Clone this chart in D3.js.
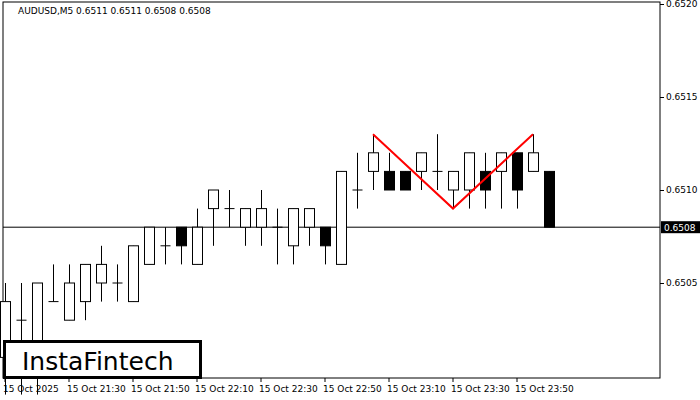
<!DOCTYPE html><html><head><meta charset="utf-8"><script src="https://cdn.jsdelivr.net/npm/d3@7"></script>
<style>body{margin:0;background:#fff}svg{display:block}text{font-family:"DejaVu Sans",sans-serif}</style></head><body><svg id="c" width="700" height="400"></svg>
<script>
const opens  =[.6501,.6503,.6500,.6504,.6503,.6504,.6505,.6505,.6504,.6506,.6507,.6508,.6506,.6509,.6509,.6508,.6508,.6508,.6507,.6508,.6508,.6506,.6510,.6511,.6511,.6511,.6511,.6511,.6510,.6510,.6511,.6511,.6512,.6511,.6511];
const highs  =[.6505,.6505,.6505,.6506,.6506,.6506,.6507,.6506,.6507,.6508,.6508,.6508,.6509,.6510,.6510,.6509,.6510,.6509,.6509,.6509,.6508,.6511,.6512,.6513,.6512,.6511,.6512,.6513,.6511,.6512,.6512,.6512,.6512,.6513,.6511];
const lows   =[.6499,.6499,.6499,.6504,.6503,.6503,.6504,.6504,.6504,.6506,.6506,.6506,.6506,.6507,.6508,.6507,.6507,.6506,.6506,.6507,.6506,.6506,.6509,.6510,.6510,.6510,.6510,.6510,.6509,.6509,.6509,.6509,.6509,.6511,.6508];
const closes =[.6504,.6503,.6505,.6504,.6505,.6506,.6506,.6505,.6507,.6508,.6507,.6507,.6508,.6510,.6509,.6509,.6509,.6508,.6509,.6509,.6507,.6511,.6510,.6512,.6510,.6510,.6512,.6511,.6511,.6512,.6510,.6512,.6510,.6512,.6508];
const yTicks=[0.6505,0.6510,0.6515,0.6520];
const xLabels=["15 Oct 2025","15 Oct 21:30","15 Oct 21:50","15 Oct 22:10","15 Oct 22:30","15 Oct 22:50","15 Oct 23:10","15 Oct 23:30","15 Oct 23:50"];
const pattern=[[23,.6513],[28,.6509],[33,.6513]];
const current=.6508;
const svg=d3.select("#c");
const x=d3.scaleLinear().domain([0,34]).range([5,549]);
const y=d3.scaleLinear().domain([0.6500,0.6520]).range([376,4]);
const L=3,R=660,T=2,B=378;
svg.append("rect").attr("x",L).attr("y",T).attr("width",R-L).attr("height",B-T).attr("fill","none").attr("stroke","#000");
const ax=svg.append("g").attr("transform",`translate(${R},0)`).call(d3.axisRight(y).tickValues(yTicks).tickFormat(d3.format(".4f")).tickSize(4));
ax.select(".domain").remove();
ax.selectAll("text").attr("font-size",9).attr("dx",-1);
xLabels.forEach((t,i)=>{const xi=x(i*4);
 svg.append("line").attr("x1",xi).attr("x2",xi).attr("y1",B).attr("y2",B+4).attr("stroke","#000");
 svg.append("text").attr("x",xi-2).attr("y",392).attr("font-size",9).text(t);});
svg.append("line").attr("x1",L).attr("x2",R).attr("y1",y(current)).attr("y2",y(current)).attr("stroke","#000");
const g=svg.append("g");
opens.forEach((o,i)=>{const c=closes[i],cx=Math.round(x(i))+.5;
 g.append("line").attr("x1",cx).attr("x2",cx).attr("y1",y(highs[i])).attr("y2",y(lows[i])).attr("stroke","#000");
 if(o===c){g.append("line").attr("x1",cx-5).attr("x2",cx+5).attr("y1",y(o)).attr("y2",y(o)).attr("stroke","#000");}
 else g.append("rect").attr("x",cx-5).attr("width",10).attr("y",y(Math.max(o,c))).attr("height",Math.abs(y(o)-y(c))).attr("fill",c>o?"#fff":"#000").attr("stroke","#000");});
svg.append("path").attr("d",d3.line().x(d=>x(d[0])).y(d=>y(d[1]))(pattern)).attr("fill","none").attr("stroke","#f00").attr("stroke-width",2);
svg.append("rect").attr("x",R+1).attr("y",y(current)-6).attr("width",39).attr("height",12).attr("fill","#000");
svg.append("text").attr("x",R+4).attr("y",y(current)+3.5).attr("font-size",9).attr("fill","#fff").text(d3.format(".4f")(current));
svg.append("text").attr("x",18).attr("y",14).attr("font-size",9).text("AUDUSD,M5  0.6511 0.6511 0.6508 0.6508");
svg.append("rect").attr("x",4.5).attr("y",341.5).attr("width",196).attr("height",36).attr("fill","#fff").attr("stroke","#000").attr("stroke-width",3);
svg.append("text").attr("x",22).attr("y",370).attr("font-size",25).attr("font-family","Roboto").text("InstaFintech");
</script></body></html>
